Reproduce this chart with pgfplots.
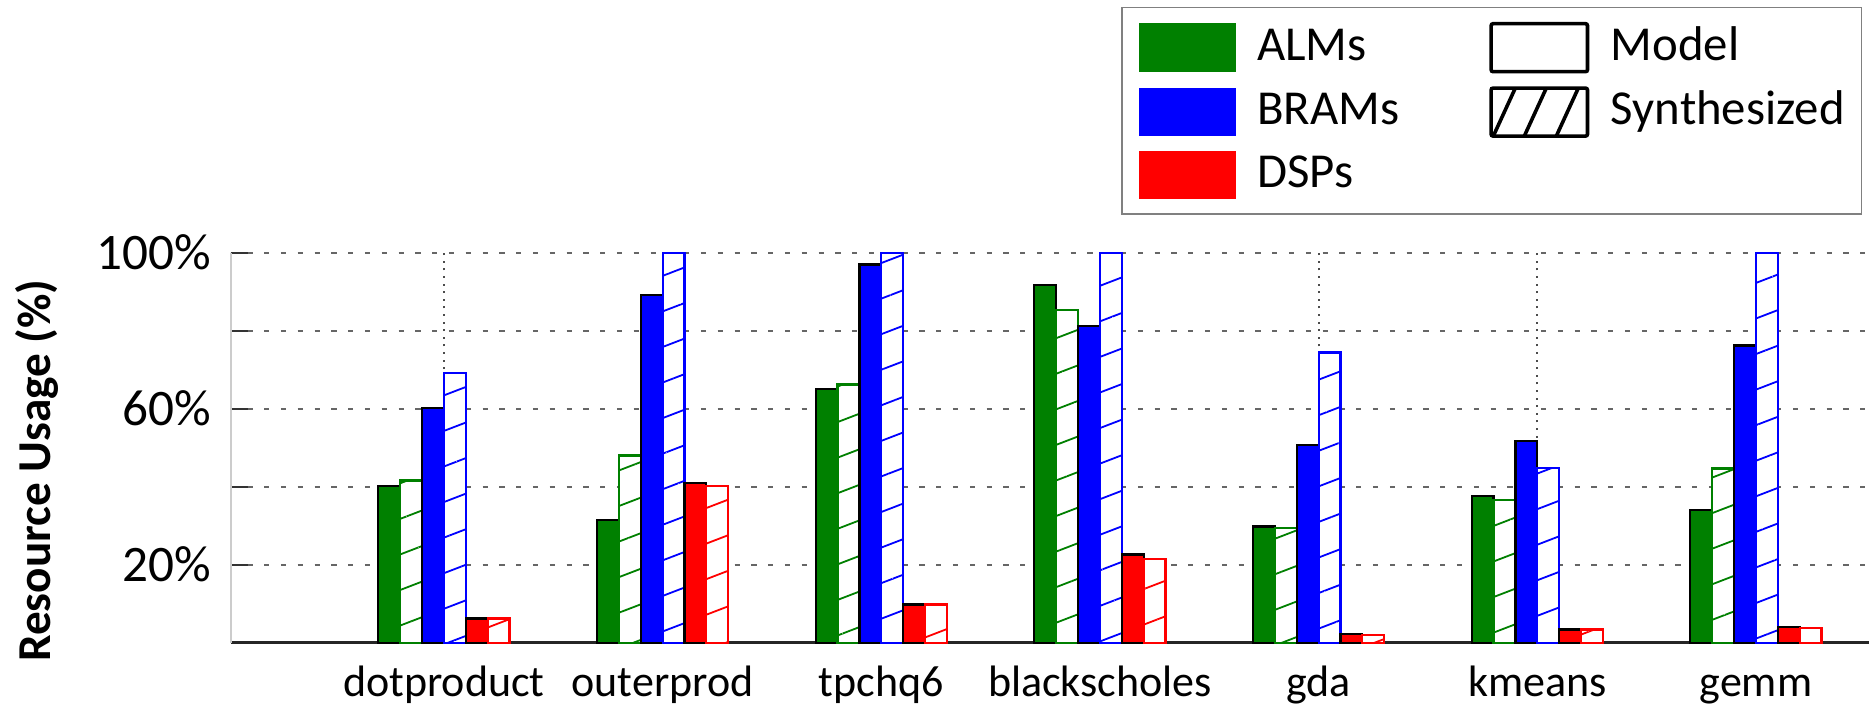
\documentclass[border=0pt]{standalone}
\usepackage{fontspec}
\setmainfont{Carlito}
\usepackage{pgfplots}
\pgfplotsset{compat=1.18}
\usetikzlibrary{patterns.meta}
\definecolor{cG}{RGB}{0,128,0}
\definecolor{cB}{RGB}{0,0,255}
\definecolor{cR}{RGB}{255,0,0}
\pgfplotsset{
  model/.style={draw=black, line width=0.55pt, fill=#1},
  synth/.style={draw=#1, line width=0.55pt, fill=white,
    postaction={pattern={Lines[angle=21, distance=8.3pt, line width=0.45pt]}, pattern color=#1}},
}
\begin{document}
\begin{tikzpicture}
\begin{axis}[
  name=ax,
  scale only axis, width=409.6pt, height=97.5pt,
  xmin=-0.976, xmax=6.517, ymin=0, ymax=100,
  ybar, bar width=0.1,
  clip=false,
  axis x line*=bottom, axis y line*=left,
  x axis line style={black!85, line width=0.7pt},
  y axis line style={black!20, line width=0.5pt},
  xtick={0,...,6},
  xticklabels={dotproduct,outerprod,tpchq6,blackscholes,gda,kmeans,gemm},
  xtick style={draw=none},
  ytick={0,20,40,60,80,100},
  yticklabels={,20\%,,60\%,,100\%},
  ytick style={black!80, line width=0.6pt},
  major tick length=4.4pt,
  tick align=inside,
  xmajorgrids, ymajorgrids,
  x grid style={black!70, line width=0.5pt, dash pattern=on 0.5pt off 1.4pt},
  y grid style={black!60, line width=0.5pt, dash pattern=on 1.3pt off 2.9pt},
  xticklabel style={font=\fontsize{11}{13}\selectfont, anchor=base, yshift=-13.5pt},
  yticklabel style={font=\fontsize{12.8}{15}\selectfont, anchor=east, inner sep=0pt, xshift=-4.7pt},
  ylabel={Resource Usage (\%)},
  ylabel style={font=\fontsize{11.8}{14}\selectfont\bfseries, at={(axis description cs:-0.1315,0.4415)}, anchor=north, inner sep=0pt},
  legend columns=2,
  legend cell align=left,
  legend style={at={(axis description cs:0.9959,1.6308)}, anchor=north east,
    draw=black!50, line width=0.4pt, inner xsep=4.2pt, inner ysep=3.6pt,
    row sep=3.2pt, column sep=0pt, font=\fontsize{12.2}{14}\selectfont,
    nodes={inner sep=0pt, text height=9.2pt, text depth=3pt}},
]
\addlegendimage{legend image code/.code={\fill[cG] (0pt,-5.9pt) rectangle (24pt,5.9pt); \path (29.2pt,0pt);}}
\addlegendentry{ALMs}
\addlegendimage{legend image code/.code={\path (-22.3pt,0pt); \draw[black, line width=0.9pt, rounded corners=0.5pt] (0.45pt,-6pt) rectangle (24.55pt,6pt); \path (30.2pt,0pt);}}
\addlegendentry{Model}
\addlegendimage{legend image code/.code={\fill[cB] (0pt,-5.9pt) rectangle (24pt,5.9pt); \path (29.2pt,0pt);}}
\addlegendentry{BRAMs}
\addlegendimage{legend image code/.code={\path (-22.3pt,0pt);
  \begin{scope}\clip (0.45pt,-6pt) rectangle (24.55pt,6pt);
  \draw[black, line width=0.9pt] (1pt,-6pt) -- (6.5pt,6pt) (8.75pt,-6pt) -- (14.25pt,6pt) (16.75pt,-6pt) -- (22.25pt,6pt);
  \end{scope}
  \draw[black, line width=0.9pt, rounded corners=0.5pt] (0.45pt,-6pt) rectangle (24.55pt,6pt); \path (30.2pt,0pt);}}
\addlegendentry{Synthesized\hspace{3.1pt}}
\addlegendimage{legend image code/.code={\fill[cR] (0pt,-5.9pt) rectangle (24pt,5.9pt); \path (29.2pt,0pt);}}
\addlegendentry{DSPs}

% ALMs model
\addplot[model=cG, bar shift=-0.25, forget plot] coordinates {(0,40.2) (1,31.5) (2,65.0) (3,91.7) (4,29.8) (5,37.7) (6,34.0)};
% ALMs synthesized
\addplot[synth=cG, bar shift=-0.15, forget plot] coordinates {(0,41.6) (1,48.0) (2,66.2) (3,85.4) (4,29.5) (5,36.7) (6,44.7)};
% BRAMs model
\addplot[model=cB, bar shift=-0.05, forget plot] coordinates {(0,60.1) (1,89.1) (2,97.0) (3,81.2) (4,50.6) (5,51.8) (6,76.2)};
% BRAMs synthesized
\addplot[synth=cB, bar shift=0.05, forget plot] coordinates {(0,69.1) (1,100) (2,100) (3,100) (4,74.4) (5,44.9) (6,100)};
% DSPs model
\addplot[model=cR, bar shift=0.15, forget plot] coordinates {(0,6.2) (1,41.0) (2,9.8) (3,22.6) (4,2.3) (5,3.4) (6,4.1)};
% DSPs synthesized
\addplot[synth=cR, bar shift=0.25, forget plot] coordinates {(0,6.2) (1,40.2) (2,9.8) (3,21.5) (4,1.9) (5,3.4) (6,3.8)};
\end{axis}
\pgfresetboundingbox
\path[use as bounding box] ([xshift=-57.625pt,yshift=-16.325pt]ax.south west) rectangle ([yshift=63.175pt]ax.north east);
\end{tikzpicture}
\end{document}
